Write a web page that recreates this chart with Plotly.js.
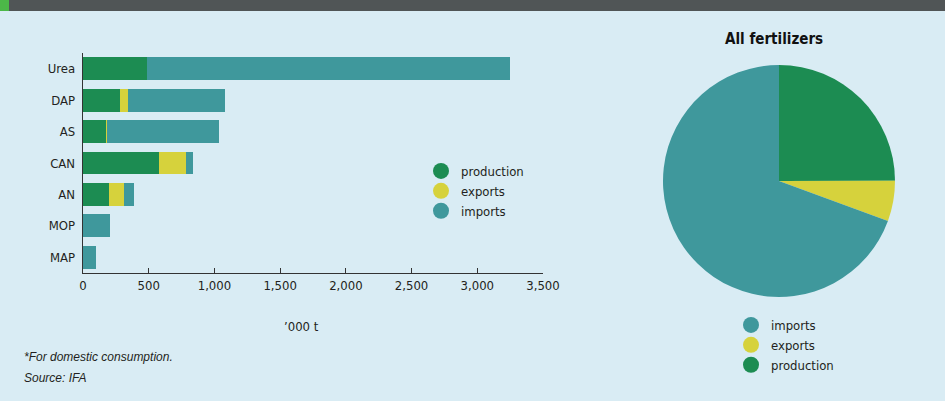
<!DOCTYPE html>
<html><head><meta charset="utf-8">
<script src="https://cdn.plot.ly/plotly-3.0.1.min.js"></script>
<style>html,body{margin:0;padding:0;background:#d9ecf4;}#chart{width:945px;height:401px;}</style>
</head><body><div id="chart"></div>
<script>
const categories = ['Urea','DAP','AS','CAN','AN','MOP','MAP'];
const production = [487, 282, 175, 578, 198, 0, 0];
const exportsVals = [0, 60, 8, 206, 114, 0, 0];
const imports = [2759, 739, 852, 53, 76, 205, 99];
const xTicks = [0, 500, 1000, 1500, 2000, 2500, 3000, 3500];
const xTickLabels = ['0','500','1,000','1,500','2,000','2,500','3,000','3,500'];
const pieLabels = ['production','exports','imports'];
const pieValues = [1720, 388, 4783];

const C = {prod:'#1c8c52', exp:'#d6d23c', imp:'#3f989c', bg:'#d9ecf4', ink:'#231f20'};
const FONT = '"DejaVu Sans Condensed","Liberation Sans Narrow",Arial,sans-serif';
const W = 945, H = 401;
const px = x => x / W, py = y => 1 - y / H;

const barCommon = {type:'bar', orientation:'h', y:categories, width:0.73, showlegend:false, hoverinfo:'x+name'};
const data = [
  Object.assign({}, barCommon, {name:'production', x:production, marker:{color:C.prod}}),
  Object.assign({}, barCommon, {name:'exports', x:exportsVals, marker:{color:C.exp}}),
  Object.assign({}, barCommon, {name:'imports', x:imports, marker:{color:C.imp}}),
  {type:'scatter', mode:'markers', x:[null], y:[null], name:'production', marker:{color:C.prod, size:16}, legend:'legend'},
  {type:'scatter', mode:'markers', x:[null], y:[null], name:'exports', marker:{color:C.exp, size:16}, legend:'legend'},
  {type:'scatter', mode:'markers', x:[null], y:[null], name:'imports', marker:{color:C.imp, size:16}, legend:'legend'},
  {type:'pie', labels:pieLabels, values:pieValues, sort:false, direction:'clockwise', rotation:0,
   marker:{colors:[C.prod, C.exp, C.imp]}, textinfo:'none', showlegend:false,
   domain:{x:[px(663), px(895)], y:[py(297), py(65)]}},
  {type:'scatter', mode:'markers', x:[null], y:[null], name:'imports', marker:{color:C.imp, size:16}, legend:'legend2'},
  {type:'scatter', mode:'markers', x:[null], y:[null], name:'exports', marker:{color:C.exp, size:16}, legend:'legend2'},
  {type:'scatter', mode:'markers', x:[null], y:[null], name:'production', marker:{color:C.prod, size:16}, legend:'legend2'}
];

const layout = {
  width:W, height:H, margin:{l:0,r:0,t:0,b:0},
  paper_bgcolor:C.bg, plot_bgcolor:C.bg,
  font:{family:FONT, size:13, color:C.ink},
  barmode:'stack', bargap:0.27,
  xaxis:{domain:[px(83), px(543)], range:[0,3500], tickvals:xTicks, ticktext:xTickLabels,
    showgrid:false, zeroline:false, showline:true, linecolor:'#333', linewidth:1.3,
    ticks:'inside', ticklen:5, tickcolor:'#333', tickfont:{size:13}, fixedrange:true},
  yaxis:{domain:[py(273), py(53)], type:'category', categoryorder:'array', categoryarray:categories,
    range:[6.5,-0.5], showgrid:false, zeroline:false, showline:true, linecolor:'#333', linewidth:1.3,
    ticks:'', ticklabelstandoff:4, tickfont:{size:13}, fixedrange:true},
  legend:{x:px(421), y:py(156), xanchor:'left', yanchor:'top', bgcolor:'rgba(0,0,0,0)',
    font:{size:13, family:FONT}, traceorder:'normal', itemclick:false},
  legend2:{x:px(731), y:py(310), xanchor:'left', yanchor:'top', bgcolor:'rgba(0,0,0,0)',
    font:{size:13, family:FONT}, traceorder:'normal', itemclick:false},
  shapes:[
    {type:'rect', xref:'paper', yref:'paper', x0:0, x1:1, y0:py(11), y1:1, fillcolor:'#505556', line:{width:0}},
    {type:'rect', xref:'paper', yref:'paper', x0:0, x1:px(9), y0:py(11), y1:1, fillcolor:'#4cb848', line:{width:0}}
  ],
  annotations:[
    {xref:'paper', yref:'paper', x:px(301), y:py(326), xanchor:'center', yanchor:'middle', text:'’000 t', showarrow:false, font:{size:13}},
    {xref:'paper', yref:'paper', x:px(774), y:py(39), xanchor:'center', yanchor:'middle', text:'<b>All fertilizers</b>', showarrow:false, font:{size:15, color:'#111'}},
    {xref:'paper', yref:'paper', x:px(22), y:py(357), xanchor:'left', yanchor:'middle', text:'<i>*For domestic consumption.</i>', showarrow:false, font:{size:12, family:'"Liberation Sans",Arial,sans-serif'}},
    {xref:'paper', yref:'paper', x:px(22), y:py(378), xanchor:'left', yanchor:'middle', text:'<i>Source: IFA</i>', showarrow:false, font:{size:12, family:'"Liberation Sans",Arial,sans-serif'}}
  ]
};
Plotly.newPlot('chart', data, layout, {displayModeBar:false, staticPlot:true});
</script></body></html>
